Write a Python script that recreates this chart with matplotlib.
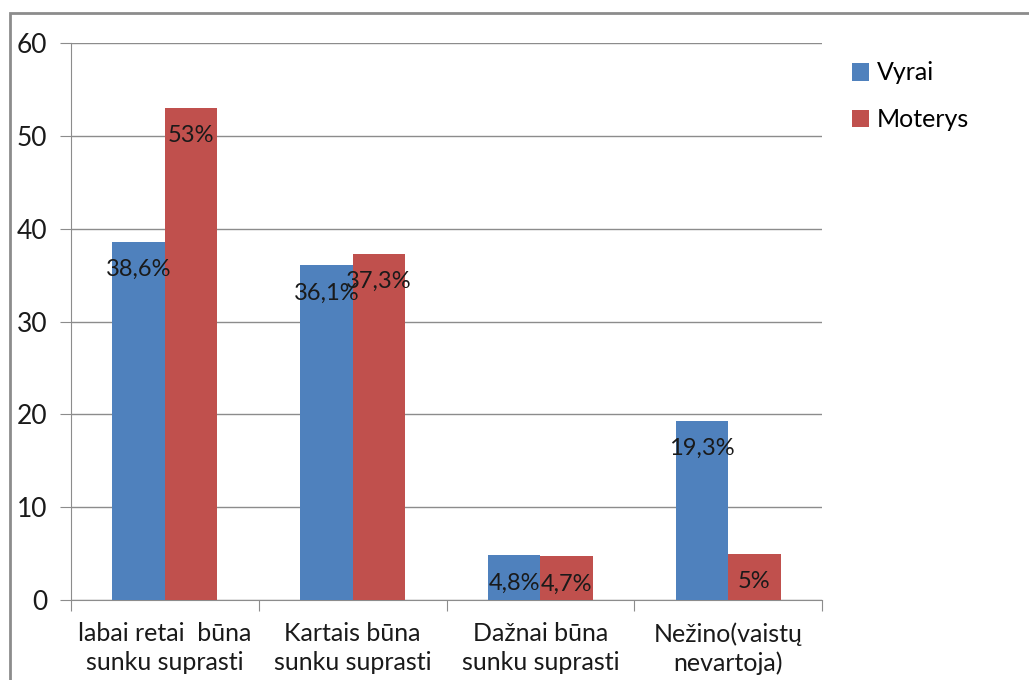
import numpy as np
import matplotlib.pyplot as plt
from matplotlib.patches import Rectangle

kategorijos = ["labai retai  būna\nsunku suprasti", "Kartais būna\nsunku suprasti",
               "Dažnai būna\nsunku suprasti", "Nežino(vaistų\nnevartoja)"]
vyrai = [38.6, 36.1, 4.8, 19.3]
moterys = [53, 37.3, 4.7, 5]
vyrai_txt = ["38,6%", "36,1%", "4,8%", "19,3%"]
moterys_txt = ["53%", "37,3%", "4,7%", "5%"]

plt.rcParams['font.family'] = ['Lato', 'DejaVu Sans']

fig = plt.figure(figsize=(10.29, 6.80), dpi=100)
fig.patches.append(Rectangle((10 / 1029, -0.1), 1.2, 1 - 13 / 680 + 0.1,
                             transform=fig.transFigure, fill=False,
                             edgecolor='#8c8c8c', linewidth=2))
ax = fig.add_axes([71 / 1029, 1 - 600 / 680, (822 - 71) / 1029, (600 - 43) / 680])

x = np.arange(len(kategorijos))
w = 0.28
b1 = ax.bar(x - w / 2, vyrai, w, color='#4F81BD', label='Vyrai', zorder=3)
b2 = ax.bar(x + w / 2, moterys, w, color='#C0504D', label='Moterys', zorder=3)

# reikšmės bent kiek žemiau stulpelio viršaus
for bars, txt in ((b1, vyrai_txt), (b2, moterys_txt)):
    for r, t in zip(bars, txt):
        ax.annotate(t, (r.get_x() + r.get_width() / 2, r.get_height()),
                    xytext=(0, -28), textcoords='offset pixels',
                    ha='center', va='center', fontsize=17, color='#1a1a1a', zorder=4)

ax.set_xlim(-0.5, 3.5)
ax.set_ylim(0, 60)
ax.set_yticks(range(0, 61, 10))
ax.yaxis.grid(True, color='#8c8c8c', linewidth=1, zorder=0)
ax.set_xticks(np.arange(-0.5, 4, 1))
ax.set_xticklabels([])
ax.set_xticks(x, minor=True)
ax.set_xticklabels(kategorijos, minor=True, fontsize=18, color='#1a1a1a', linespacing=1.3)
ax.tick_params(axis='x', which='minor', length=0, pad=16)
ax.tick_params(axis='x', which='major', length=8, color='#8c8c8c', direction='out')
ax.tick_params(axis='y', length=8, color='#8c8c8c', labelsize=19, labelcolor='#1a1a1a', pad=9)
for s in ['top', 'right']:
    ax.spines[s].set_visible(False)
for s in ['left', 'bottom']:
    ax.spines[s].set_color('#8c8c8c')

fig.legend(handles=[b1, b2], loc='upper left', bbox_to_anchor=(829 / 1029, 1 - 39 / 680),
           frameon=False, fontsize=18, handlelength=0.7, handleheight=0.7,
           labelspacing=0.95, handletextpad=0.3)

fig.savefig('out.png', dpi=100)
